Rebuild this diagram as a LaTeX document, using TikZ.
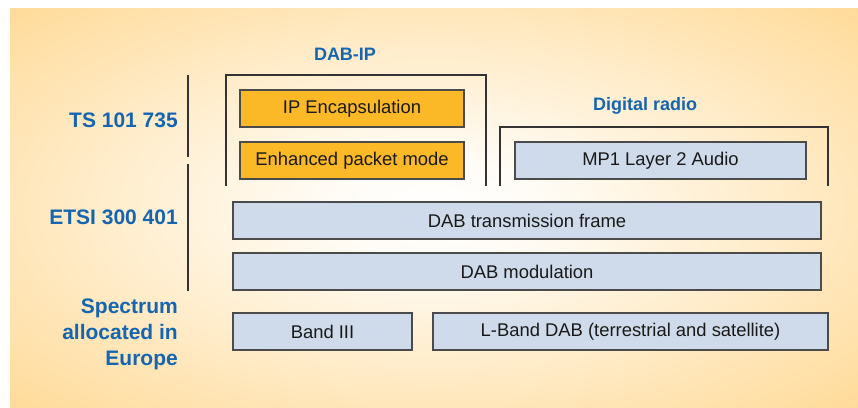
\documentclass[tikz,border=0pt]{standalone}
\usepackage{fontspec}
\setmainfont{Liberation Sans}
\definecolor{bgorange}{RGB}{255,216,145}
\definecolor{labblue}{RGB}{21,101,176}
\definecolor{boxblue}{RGB}{207,219,234}
\definecolor{boxorange}{RGB}{251,184,39}
\definecolor{edge}{RGB}{75,75,75}
\pgfdeclareradialshading{bgshade}{\pgfpoint{0bp}{0bp}}{color(0bp)=(white); color(6bp)=(white!92!bgorange); color(38bp)=(bgorange); color(50bp)=(bgorange)}
\begin{document}
\begin{tikzpicture}[x=1pt,y=-1pt,
  layer/.style={draw=edge, line width=1.2pt, fill=boxblue, inner sep=0pt, font=\fontsize{18.4}{22}\selectfont, text=black!90},
  iplayer/.style={layer, fill=boxorange},
  stdlabel/.style={text=labblue, font=\bfseries\fontsize{21}{26}\selectfont, inner sep=0pt},
  grouplabel/.style={text=labblue, font=\bfseries\fontsize{18}{22}\selectfont, inner sep=0pt},
  bracket/.style={draw=black!80, line width=1.4pt}]
\useasboundingbox (0,0) rectangle (858,407);
\shade[shading=bgshade] (10,8) rectangle (858,407);

% left labels
\node[stdlabel, anchor=base east] (ts) at (178,127) {TS 101 735};
\node[stdlabel, anchor=base east] (etsi) at (178,224) {ETSI 300 401};
\node[stdlabel, anchor=east, align=right] (spec) at (178,334) {Spectrum\\allocated in\\Europe};

% separators
\draw[bracket] (188,75) -- (188,157);
\draw[bracket] (188,164) -- (188,291);

% DAB-IP group
\node[grouplabel, anchor=base] (dabip) at (345,60) {DAB-IP};
\draw[bracket] (226,186) -- (226,75) -- (486,75) -- (486,186);
\node[iplayer, minimum width=224pt, minimum height=37pt] (ipenc) at (352,108.5) {IP Encapsulation};
\node[iplayer, minimum width=224pt, minimum height=37pt] (epm) at (352,160.5) {Enhanced packet mode};

% Digital radio group
\node[grouplabel, anchor=base] (dr) at (645,110) {Digital radio};
\draw[bracket] (500,186) -- (500,127) -- (828,127) -- (828,186);
\node[layer, minimum width=291pt, minimum height=37pt] (mp1) at (660.5,160.5) {MP1 Layer 2 Audio};

% common layers
\node[layer, minimum width=588pt, minimum height=37pt] (frame) at (527,220.5) {DAB transmission frame};
\node[layer, minimum width=588pt, minimum height=37pt] (mod) at (527,271.5) {DAB modulation};
\node[layer, minimum width=179pt, minimum height=37pt] (band3) at (322.5,331.5) {Band III};
\node[layer, minimum width=395pt, minimum height=37pt] (lband) at (630.5,331.5) {L-Band DAB (terrestrial and satellite)};
\end{tikzpicture}
\end{document}
